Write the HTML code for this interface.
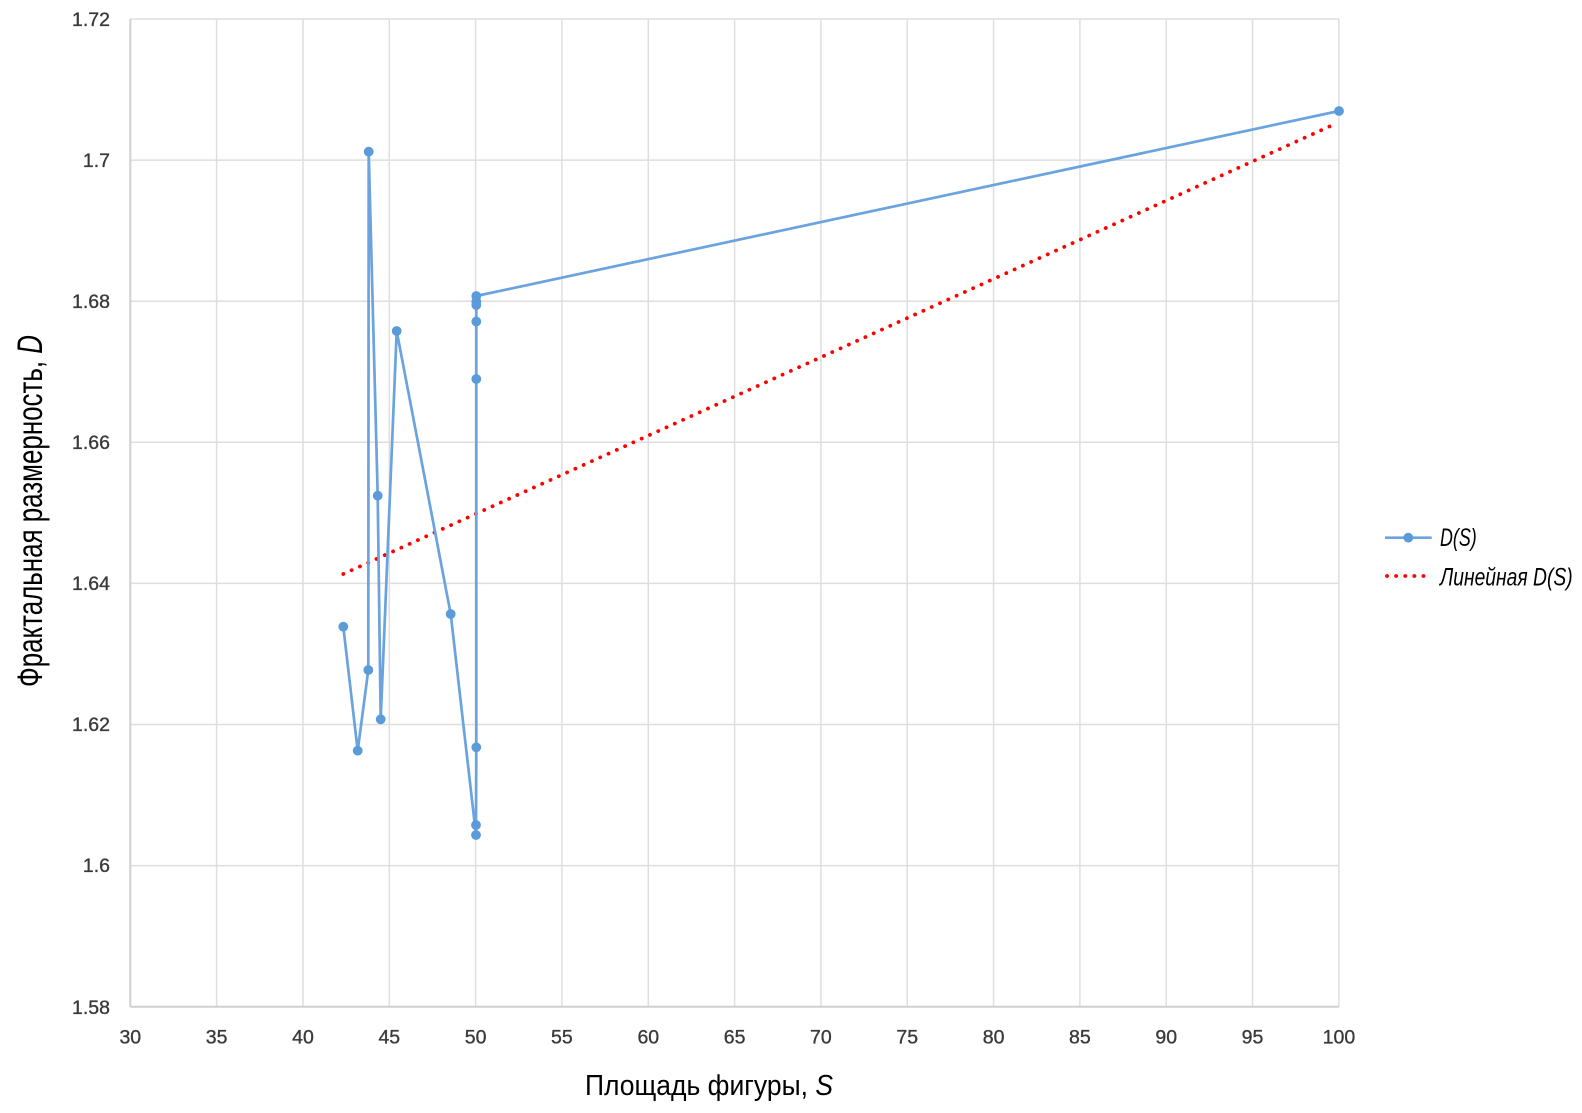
<!DOCTYPE html>
<html>
<head>
<meta charset="utf-8">
<style>
html,body{margin:0;padding:0;background:#fff;}
svg{display:block;}
.tk{font-family:"Liberation Sans",sans-serif;font-size:19.5px;fill:#3a3a3a;stroke:#3a3a3a;stroke-width:0.35px;}
.tt{font-family:"Liberation Sans Narrow","Liberation Sans",sans-serif;fill:#000;}
</style>
</head>
<body>
<svg width="1582" height="1113" viewBox="0 0 1582 1113" xmlns="http://www.w3.org/2000/svg">
<rect width="1582" height="1113" fill="#fff"/>
<!-- vertical grid -->
<g stroke="#dedede" stroke-width="1.5">
<line x1="216.6" y1="19" x2="216.6" y2="1006.7"/>
<line x1="303.0" y1="19" x2="303.0" y2="1006.7"/>
<line x1="389.3" y1="19" x2="389.3" y2="1006.7"/>
<line x1="475.6" y1="19" x2="475.6" y2="1006.7"/>
<line x1="561.9" y1="19" x2="561.9" y2="1006.7"/>
<line x1="648.3" y1="19" x2="648.3" y2="1006.7"/>
<line x1="734.6" y1="19" x2="734.6" y2="1006.7"/>
<line x1="820.9" y1="19" x2="820.9" y2="1006.7"/>
<line x1="907.2" y1="19" x2="907.2" y2="1006.7"/>
<line x1="993.6" y1="19" x2="993.6" y2="1006.7"/>
<line x1="1079.9" y1="19" x2="1079.9" y2="1006.7"/>
<line x1="1166.2" y1="19" x2="1166.2" y2="1006.7"/>
<line x1="1252.5" y1="19" x2="1252.5" y2="1006.7"/>
<line x1="1338.9" y1="19" x2="1338.9" y2="1006.7"/>
<!-- horizontal grid -->
<line x1="130.3" y1="19" x2="1338.9" y2="19"/>
<line x1="130.3" y1="160.1" x2="1338.9" y2="160.1"/>
<line x1="130.3" y1="301.2" x2="1338.9" y2="301.2"/>
<line x1="130.3" y1="442.3" x2="1338.9" y2="442.3"/>
<line x1="130.3" y1="583.4" x2="1338.9" y2="583.4"/>
<line x1="130.3" y1="724.5" x2="1338.9" y2="724.5"/>
<line x1="130.3" y1="865.6" x2="1338.9" y2="865.6"/>
</g>
<!-- axes -->
<g stroke="#d0d0d0" stroke-width="2">
<line x1="130.3" y1="19" x2="130.3" y2="1006.7"/>
<line x1="130.3" y1="1006.7" x2="1338.9" y2="1006.7"/>
</g>
<!-- y tick labels -->
<g class="tk" text-anchor="end">
<text x="110" y="26">1.72</text>
<text x="110" y="167">1.7</text>
<text x="110" y="308">1.68</text>
<text x="110" y="449">1.66</text>
<text x="110" y="590">1.64</text>
<text x="110" y="731">1.62</text>
<text x="110" y="872">1.6</text>
<text x="110" y="1014">1.58</text>
</g>
<!-- x tick labels -->
<g class="tk" text-anchor="middle">
<text x="130.3" y="1043.5">30</text>
<text x="216.6" y="1043.5">35</text>
<text x="303.0" y="1043.5">40</text>
<text x="389.3" y="1043.5">45</text>
<text x="475.6" y="1043.5">50</text>
<text x="561.9" y="1043.5">55</text>
<text x="648.3" y="1043.5">60</text>
<text x="734.6" y="1043.5">65</text>
<text x="820.9" y="1043.5">70</text>
<text x="907.2" y="1043.5">75</text>
<text x="993.6" y="1043.5">80</text>
<text x="1079.9" y="1043.5">85</text>
<text x="1166.2" y="1043.5">90</text>
<text x="1252.5" y="1043.5">95</text>
<text x="1338.9" y="1043.5">100</text>
</g>
<!-- trend line -->
<line x1="343.3" y1="574" x2="1335" y2="124" stroke="#ff0000" stroke-width="3.8" stroke-linecap="round" stroke-dasharray="0.1 9"/>
<!-- data series -->
<polyline fill="none" stroke="#6aa3de" stroke-width="2.7" stroke-linejoin="round"
points="343.3,626.7 357.7,750.7 368.3,670 368.7,151.7 377.7,495.7 380.7,719.3 396.7,331 450.7,614 476,835 476,825 476.3,747.3 476.3,379 476.3,321.5 476.3,305 476.3,301.7 476.3,296 1339,111"/>
<g fill="#5b9bd9">
<circle cx="343.3" cy="626.7" r="4.9"/>
<circle cx="357.7" cy="750.7" r="4.9"/>
<circle cx="368.3" cy="670" r="4.9"/>
<circle cx="368.7" cy="151.7" r="4.9"/>
<circle cx="377.7" cy="495.7" r="4.9"/>
<circle cx="380.7" cy="719.3" r="4.9"/>
<circle cx="396.7" cy="331" r="4.9"/>
<circle cx="450.7" cy="614" r="4.9"/>
<circle cx="476" cy="835" r="4.9"/>
<circle cx="476" cy="825" r="4.9"/>
<circle cx="476.3" cy="747.3" r="4.9"/>
<circle cx="476.3" cy="379" r="4.9"/>
<circle cx="476.3" cy="321.5" r="4.9"/>
<circle cx="476.3" cy="305" r="4.9"/>
<circle cx="476.3" cy="301.7" r="4.9"/>
<circle cx="476.3" cy="296" r="4.9"/>
<circle cx="1339" cy="111" r="4.9"/>
</g>
<!-- axis titles -->
<text class="tt" x="585" y="1095" font-size="29" textLength="248" lengthAdjust="spacingAndGlyphs">Площадь фигуры, <tspan font-style="italic">S</tspan></text>
<text class="tt" transform="translate(42,687) rotate(-90)" x="0" y="0" font-size="35" textLength="352" lengthAdjust="spacingAndGlyphs">Фрактальная размерность, <tspan font-style="italic">D</tspan></text>
<!-- legend -->
<line x1="1385" y1="537.7" x2="1431.7" y2="537.7" stroke="#6aa3de" stroke-width="2.7"/>
<circle cx="1408.3" cy="537.7" r="4.9" fill="#5b9bd9"/>
<text class="tt" x="1440" y="546" font-size="25" font-style="italic" textLength="36.7" lengthAdjust="spacingAndGlyphs">D(S)</text>
<line x1="1387" y1="576" x2="1432" y2="576" stroke="#ff0000" stroke-width="3.8" stroke-linecap="round" stroke-dasharray="0.1 9"/>
<text class="tt" x="1440" y="585.5" font-size="25" font-style="italic" textLength="132.7" lengthAdjust="spacingAndGlyphs">Линейная D(S)</text>
</svg>
</body>
</html>
